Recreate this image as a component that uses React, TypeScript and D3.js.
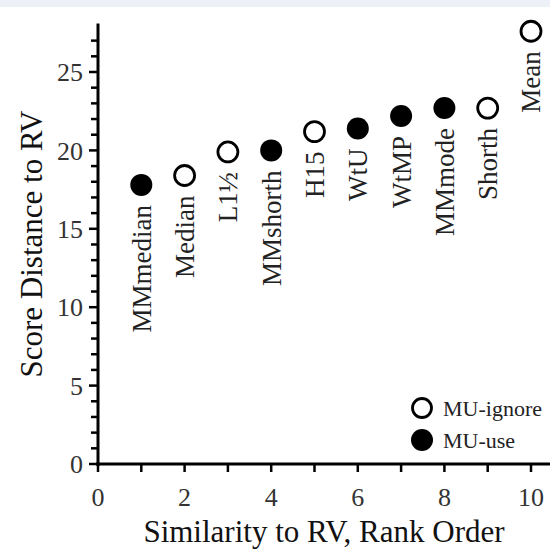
import { useEffect, useRef } from 'react'
import * as d3 from 'd3'

// estimator names in rank order
const methods = ['MMmedian', 'Median', 'L1½', 'MMshorth', 'H15', 'WtU', 'WtMP', 'MMmode', 'Shorth', 'Mean']
const ranks = [1, 2, 3, 4, 5, 6, 7, 8, 9, 10]
const scores = [17.8, 18.4, 19.9, 20.0, 21.2, 21.4, 22.2, 22.7, 22.7, 27.6]
const muUse = [true, false, false, true, false, true, true, true, false, false]
const xTicks = [0, 2, 4, 6, 8, 10]
const yTicks = [0, 5, 10, 15, 20, 25]
const legendItems = ['MU-ignore', 'MU-use']

export default function App() {
  const svgRef = useRef<SVGSVGElement>(null)

  useEffect(() => {
    document.body.style.margin = '0'
    const W = 550
    const H = 553
    const svg = d3.select(svgRef.current).attr('width', W).attr('height', H)
    svg.selectAll('*').remove()

    svg.append('rect').attr('width', W).attr('height', H).attr('fill', '#fff')
    // faint watermark strip at top
    svg.append('rect').attr('width', W).attr('height', 7).attr('fill', '#eef0f8')

    const font = '"Liberation Serif", "Times New Roman", serif'
    const x = d3.scaleLinear().domain([0, 10]).range([98, 531])
    const y = d3.scaleLinear().domain([0, 25]).range([464, 72])

    // y axis
    svg.append('line').attr('x1', x(0)).attr('x2', x(0)).attr('y1', y(0) + 2).attr('y2', y(28.1))
      .attr('stroke', '#000').attr('stroke-width', 3)
    svg.append('g').selectAll('line').data(d3.range(0, 28)).join('line')
      .attr('x1', (d) => x(0) - (d % 5 === 0 ? 9 : 7)).attr('x2', x(0))
      .attr('y1', (d) => y(d)).attr('y2', (d) => y(d))
      .attr('stroke', '#000').attr('stroke-width', 2.5)
    svg.append('g').selectAll('text').data(yTicks).join('text')
      .attr('x', x(0) - 15).attr('y', (d) => y(d)).attr('dy', '0.35em')
      .attr('text-anchor', 'end').attr('font-family', font).attr('font-size', 26).attr('fill', '#333')
      .text((d) => d)

    // x axis
    svg.append('line').attr('x1', x(0) - 2).attr('x2', W).attr('y1', y(0)).attr('y2', y(0))
      .attr('stroke', '#000').attr('stroke-width', 3)
    svg.append('g').selectAll('line').data(d3.range(0, 11)).join('line')
      .attr('x1', (d) => x(d)).attr('x2', (d) => x(d))
      .attr('y1', y(0)).attr('y2', y(0) + 8)
      .attr('stroke', '#000').attr('stroke-width', 2.5)
    svg.append('g').selectAll('text').data(xTicks).join('text')
      .attr('x', (d) => x(d)).attr('y', 506)
      .attr('text-anchor', 'middle').attr('font-family', font).attr('font-size', 26).attr('fill', '#333')
      .text((d) => d)

    // titles
    svg.append('text').attr('x', 324).attr('y', 542).attr('text-anchor', 'middle')
      .attr('font-family', font).attr('font-size', 31).attr('fill', '#111')
      .text('Similarity to RV, Rank Order')
    svg.append('text').attr('transform', 'translate(42,244) rotate(-90)').attr('text-anchor', 'middle')
      .attr('font-family', font).attr('font-size', 31).attr('fill', '#111')
      .text('Score Distance to RV')

    // points
    const pts = ranks.map((r, i) => ({ r, s: scores[i], name: methods[i], use: muUse[i] }))
    svg.append('g').selectAll('circle').data(pts).join('circle')
      .attr('cx', (d) => x(d.r)).attr('cy', (d) => y(d.s)).attr('r', (d) => (d.use ? 11 : 10))
      .attr('fill', (d) => (d.use ? '#000' : '#fff'))
      .attr('stroke', '#000').attr('stroke-width', (d) => (d.use ? 0 : 2.8))
    svg.append('g').selectAll('text').data(pts).join('text')
      .attr('transform', (d) => `translate(${x(d.r)},${y(d.s) + 20}) rotate(-90)`)
      .attr('dy', '0.35em').attr('text-anchor', 'end')
      .attr('font-family', font).attr('font-size', 27).attr('fill', '#222')
      .text((d) => d.name)

    // legend
    const lg = svg.append('g')
    lg.selectAll('circle').data(legendItems).join('circle')
      .attr('cx', 422).attr('cy', (d, i) => 408 + i * 32).attr('r', (d, i) => (i === 1 ? 11 : 9.5))
      .attr('fill', (d, i) => (i === 1 ? '#000' : '#fff'))
      .attr('stroke', '#000').attr('stroke-width', (d, i) => (i === 1 ? 0 : 2.8))
    lg.selectAll('text').data(legendItems).join('text')
      .attr('x', 443).attr('y', (d, i) => 408 + i * 32).attr('dy', '0.35em')
      .attr('font-family', font).attr('font-size', 22).attr('fill', '#222')
      .text((d) => d)
  }, [])

  return <svg ref={svgRef}></svg>
}
